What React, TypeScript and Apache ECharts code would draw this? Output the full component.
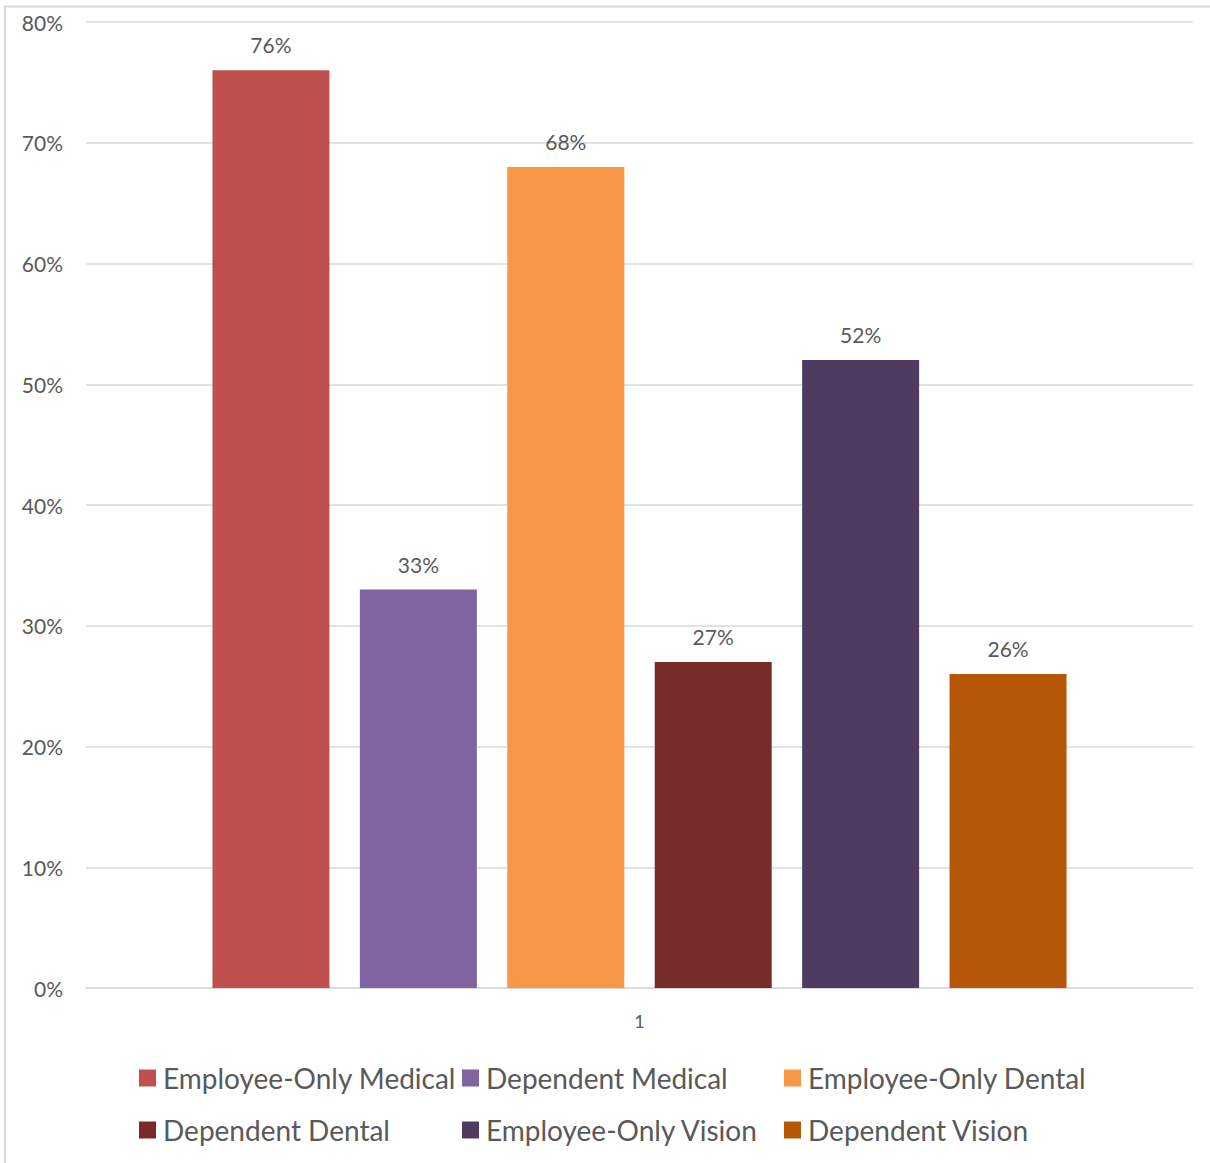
import React, { useEffect, useRef } from "react";
import * as echarts from "echarts";

const categories = ["1"];
const seriesNames = [
  "Employee-Only Medical",
  "Dependent Medical",
  "Employee-Only Dental",
  "Dependent Dental",
  "Employee-Only Vision",
  "Dependent Vision",
];
const seriesValues = [76, 33, 68, 27, 52, 26];
const seriesColors = ["#C0504D", "#8064A2", "#F79646", "#772C2A", "#4D3B62", "#B65708"];
const yTicks = { min: 0, max: 80, interval: 10 };

const FONT = "Lato, 'Open Sans', sans-serif";
const TEXT_COLOR = "#595959";

export default function App() {
  const ref = useRef<HTMLDivElement>(null);
  useEffect(() => {
    if (!ref.current) return;
    const chart = echarts.init(ref.current, null, { renderer: "svg" });
    const legendCols = [139, 462, 784];
    const legendRows = [1064, 1116];
    const legends = seriesNames.map((name, i) => ({
      data: [name],
      left: legendCols[i % 3],
      top: legendRows[Math.floor(i / 3)],
      padding: 0,
      itemWidth: 17,
      itemHeight: 17,
      itemGap: 0,
      icon: "rect",
      selectedMode: false,
      textStyle: { fontFamily: FONT, fontSize: 28, color: TEXT_COLOR, padding: [0, 0, 0, 2] },
    }));
    chart.setOption({
      animation: false,
      backgroundColor: "#ffffff",
      textStyle: { fontFamily: FONT },
      graphic: [
        {
          type: "rect",
          shape: { x: 5, y: 6.5, width: 1400, height: 1400 },
          style: { fill: "none", stroke: "#d9d9d9", lineWidth: 2 },
          silent: true,
        },
      ],
      grid: { left: 86, right: 17, top: 22, bottom: 175, containLabel: false },
      legend: legends,
      xAxis: {
        type: "category",
        data: categories,
        axisLine: { show: true, lineStyle: { color: "#d9d9d9", width: 1.5 } },
        axisTick: { show: false },
        axisLabel: { fontFamily: FONT, fontSize: 18, color: TEXT_COLOR, margin: 24 },
      },
      yAxis: {
        type: "value",
        min: yTicks.min,
        max: yTicks.max,
        interval: yTicks.interval,
        axisLine: { show: false },
        axisTick: { show: false },
        splitLine: { lineStyle: { color: "#d9d9d9", width: 1.5 } },
        axisLabel: {
          fontFamily: FONT,
          fontSize: 21,
          color: TEXT_COLOR,
          margin: 23,
          formatter: "{value}%",
        },
      },
      series: seriesNames.map((name, i) => ({
        type: "bar",
        name,
        data: [seriesValues[i]],
        barWidth: 117,
        barGap: "26%",
        itemStyle: { color: seriesColors[i] },
        label: {
          show: true,
          position: "top",
          distance: 15,
          fontFamily: FONT,
          fontSize: 21,
          color: TEXT_COLOR,
          formatter: "{c}%",
        },
      })),
    });
    return () => chart.dispose();
  }, []);
  return (
    <div
      ref={ref}
      style={{ position: "absolute", left: 0, top: 0, width: 1210, height: 1163 }}
    />
  );
}
